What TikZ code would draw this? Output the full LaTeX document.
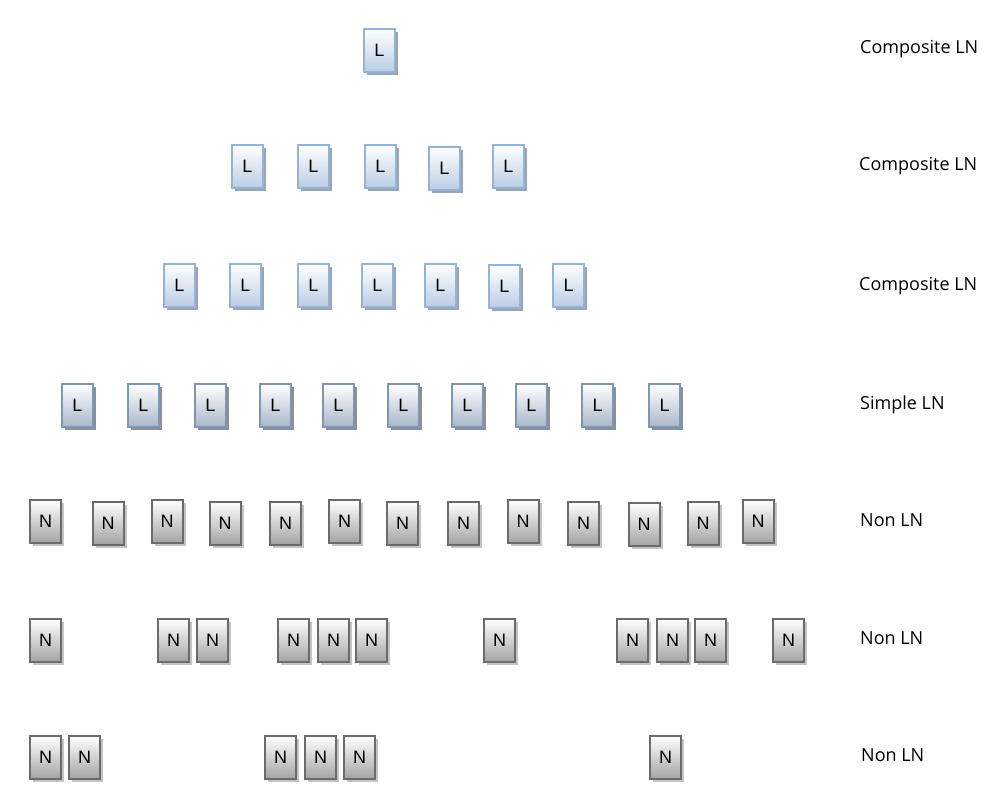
\documentclass[tikz,border=0pt]{standalone}
\usepackage{fontspec}
\setmainfont{Open Sans}
\newfontfamily\boxfont{Liberation Sans}
\usetikzlibrary{shadows}
\definecolor{lborder}{HTML}{95B3D7}
\definecolor{lbottom}{HTML}{B9CDE5}
\definecolor{lshadow}{HTML}{9AA5B4}
\definecolor{sborder}{HTML}{7F96B2}
\definecolor{sbottom}{HTML}{A9B7CB}
\definecolor{sshadow}{HTML}{8A9099}
\definecolor{nborder}{HTML}{6B6B6B}
\definecolor{nbottom}{HTML}{A3A3A3}
\definecolor{nshadow}{HTML}{C4C4C4}
\tikzset{
  x=1pt,y=-1pt,
  boxbase/.style={rectangle, minimum width=31pt, minimum height=43pt, inner sep=0pt,
    line width=2pt, font=\boxfont\fontsize{18}{18}\selectfont},
  lbox/.style={boxbase, draw=lborder, top color=white, bottom color=lbottom,
    drop shadow={shadow xshift=3pt, shadow yshift=-3pt, fill=lshadow, opacity=1}},
  sbox/.style={boxbase, draw=sborder, top color=white, bottom color=sbottom,
    drop shadow={shadow xshift=3pt, shadow yshift=-3pt, fill=sshadow, opacity=1}},
  nbox/.style={boxbase, draw=nborder, top color=white, bottom color=nbottom,
    drop shadow={shadow xshift=3pt, shadow yshift=-3pt, fill=nshadow, opacity=1}},
  rowlabel/.style={anchor=base west, inner sep=0pt, font=\fontsize{18}{18}\selectfont}
}
\begin{document}
\begin{tikzpicture}
\useasboundingbox (0,0) rectangle (1002,811);
% Row 1
\node[lbox] (a1) at (379.5,50.5) {L};
% Row 2
\foreach \x/\y [count=\i] in {231/144,297/144,364/144,428/146,492/144}
  \node[lbox] (b\i) at (\x+16.5,\y+22.5) {L};
% Row 3
\foreach \x/\y [count=\i] in {163/263,229/263,297/263,361/263,424/263,488/264,552/263}
  \node[lbox] (c\i) at (\x+16.5,\y+22.5) {L};
% Row 4
\foreach \x [count=\i] in {61,127,194,259,322,387,451,515,581,648}
  \node[sbox] (d\i) at (\x+16.5,405.5) {L};
% Row 5
\foreach \x/\y [count=\i] in {29/499,91.5/500.5,150.5/499,208.5/500.5,269/500.5,328/499,386/500.5,447/500.5,506.5/499,567/500.5,627.5/502,686.5/500.5,741.5/499}
  \node[nbox] (e\i) at (\x+16.5,\y+22.5) {N};
% Row 6
\foreach \x [count=\i] in {29,157,196,277,317,355,483,616,656,694,772}
  \node[nbox] (f\i) at (\x+16.5,640.5) {N};
% Row 7
\foreach \x [count=\i] in {29,68,264,304,343,649}
  \node[nbox] (g\i) at (\x+16.5,757.5) {N};
% Labels
\node[rowlabel] (t1) at (860,53.5) {Composite LN};
\node[rowlabel] (t2) at (859,170.5) {Composite LN};
\node[rowlabel] (t3) at (859,290.5) {Composite LN};
\node[rowlabel] (t4) at (860,409.5) {Simple LN};
\node[rowlabel] (t5) at (860,526.5) {Non LN};
\node[rowlabel] (t6) at (860,644.5) {Non LN};
\node[rowlabel] (t7) at (861,761.5) {Non LN};
\end{tikzpicture}
\end{document}
